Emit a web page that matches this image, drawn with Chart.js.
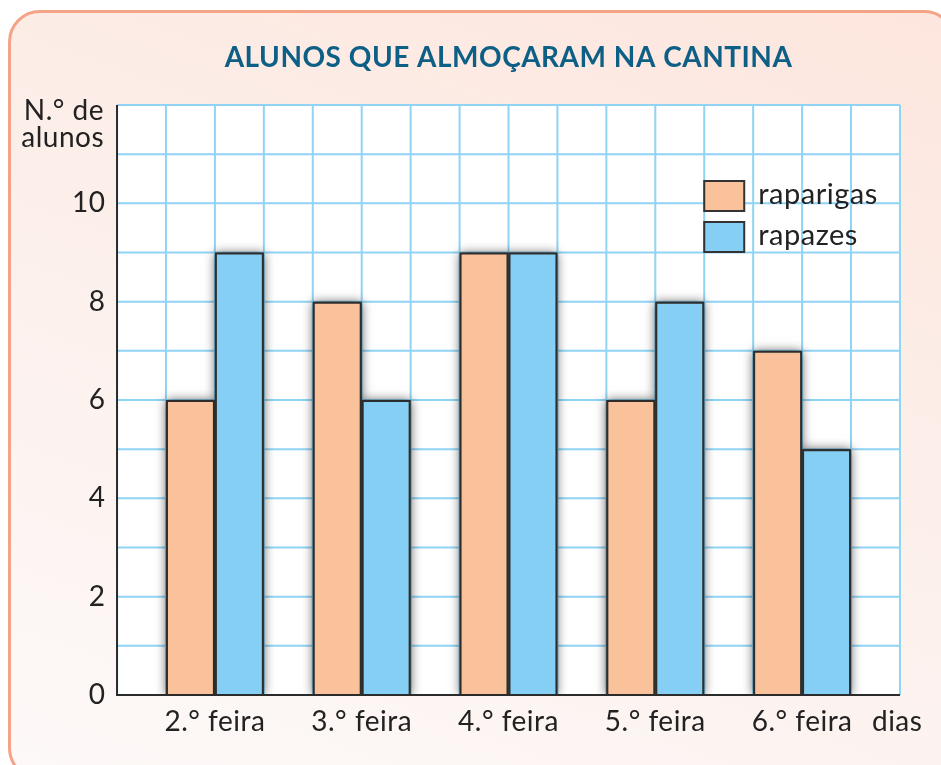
<!DOCTYPE html>
<html>
<head>
<meta charset="utf-8">
<script src="https://cdn.jsdelivr.net/npm/chart.js@4/dist/chart.umd.min.js"></script>
<style>
  html, body { margin: 0; padding: 0; background: #fff; overflow: hidden; }
  #wrap { position: relative; width: 941px; height: 765px; }
  #card {
    position: absolute; left: 8px; top: 10px; width: 948px; height: 770px;
    box-sizing: border-box; border: 3px solid #f4a386; border-radius: 32px;
    background: linear-gradient(20deg, #fdf9f8 0%, #fcefea 55%, #fde6de 100%);
  }
  #box { position: absolute; left: 0; top: 0; width: 941px; height: 765px; }
</style>
</head>
<body>
<div id="wrap">
  <div id="card"></div>
  <div id="box"><canvas id="chart"></canvas></div>
</div>
<script>
const dias = ['2.° feira', '3.° feira', '4.° feira', '5.° feira', '6.° feira'];
const raparigas = [6, 8, 9, 6, 7];
const rapazes = [9, 6, 9, 8, 5];
const yLabels = [0, 2, 4, 6, 8, 10];
const yMax = 12;

const FONT = 'Lato, "Noto Sans", sans-serif';
const TEXT = '#222222';

function gridBox(chart) {
    const x = chart.scales.x, y = chart.scales.y;
    const cols = dias.length * 3;
    const colW = (x.right - x.left) / cols;
    const left = x.left - colW / 2;
    return {
        cols, colW, left,
        right: left + colW * (cols + 1),
        top: y.getPixelForValue(yMax),
        bottom: y.getPixelForValue(0)
    };
}

// grid paper, bar shadows, axes, legend and the two axis captions
const paperPlugin = {
    id: 'paper',
    beforeDraw(chart) {
        chart.ctx.letterSpacing = '0.5px';
    },
    beforeDatasetsDraw(chart) {
        const { ctx } = chart;
        const y = chart.scales.y;
        const g = gridBox(chart);
        ctx.save();
        ctx.fillStyle = '#ffffff';
        ctx.fillRect(g.left, g.top, g.right - g.left, g.bottom - g.top);
        ctx.strokeStyle = '#8fd4f5';
        ctx.lineWidth = 2;
        ctx.beginPath();
        for (let v = 0; v <= yMax; v++) {
            const py = y.getPixelForValue(v);
            ctx.moveTo(g.left, py);
            ctx.lineTo(g.right, py);
        }
        for (let c = 0; c <= g.cols + 1; c++) {
            const px = g.left + c * g.colW;
            ctx.moveTo(px, g.top);
            ctx.lineTo(px, g.bottom);
        }
        ctx.stroke();

        // soft shadow under every bar
        ctx.beginPath();
        ctx.rect(0, 0, chart.width, g.bottom);
        ctx.clip();
        ctx.shadowColor = 'rgba(0,0,0,0.6)';
        ctx.shadowBlur = 10;
        ctx.fillStyle = '#333';
        chart.getSortedVisibleDatasetMetas().forEach(meta => {
            meta.data.forEach(bar => {
                const p = bar.getProps(['x', 'y', 'base', 'width'], true);
                ctx.fillRect(p.x - p.width / 2, p.y, p.width, p.base - p.y);
            });
        });
        ctx.restore();
    },
    afterDatasetsDraw(chart) {
        const { ctx } = chart;
        const g = gridBox(chart);

        ctx.save();
        ctx.strokeStyle = '#2b2b2b';
        ctx.lineWidth = 2;
        ctx.beginPath();
        ctx.moveTo(g.left, g.top);
        ctx.lineTo(g.left, g.bottom);
        ctx.lineTo(g.right, g.bottom);
        ctx.stroke();

        // legend
        const bx = g.left + 12 * g.colW;
        let by = g.top + 76;
        ctx.font = '29px ' + FONT;
        ctx.textBaseline = 'middle';
        ctx.textAlign = 'left';
        chart.data.datasets.forEach(ds => {
            ctx.fillStyle = ds.backgroundColor;
            ctx.fillRect(bx, by, 40, 30);
            ctx.strokeStyle = '#333';
            ctx.lineWidth = 2;
            ctx.strokeRect(bx, by, 40, 30);
            ctx.fillStyle = TEXT;
            ctx.fillText(ds.label, bx + 54, by + 14);
            by += 41;
        });

        // captions
        ctx.font = '28px ' + FONT;
        ctx.textAlign = 'right';
        ctx.fillText('N.° de', g.left - 13, g.top + 6);
        ctx.fillText('alunos', g.left - 13, g.top + 33);
        ctx.textAlign = 'left';
        ctx.fillText('dias', g.right - 28, g.bottom + 27);
        ctx.restore();
    }
};

new Chart(document.getElementById('chart'), {
    type: 'bar',
    data: {
        labels: dias,
        datasets: [
            {
                label: 'raparigas',
                data: raparigas,
                backgroundColor: '#f9c29b',
                borderColor: '#2d2d2d',
                borderWidth: 2
            },
            {
                label: 'rapazes',
                data: rapazes,
                backgroundColor: '#84cff3',
                borderColor: '#2d2d2d',
                borderWidth: 2
            }
        ]
    },
    options: {
        responsive: true,
        maintainAspectRatio: false,
        animation: false,
        categoryPercentage: 2 / 3,
        barPercentage: 1,
        layout: { padding: { left: 0, right: 65.5, top: 0, bottom: 0 } },
        plugins: {
            legend: { display: false },
            tooltip: { enabled: false },
            title: {
                display: true,
                fullSize: false,
                text: 'ALUNOS QUE ALMOÇARAM NA CANTINA',
                color: '#0e5f86',
                font: { family: FONT, size: 28, weight: 'bold' },
                padding: { top: 41, bottom: 30.4 }
            }
        },
        scales: {
            x: {
                offset: true,
                grid: { display: false, drawTicks: false },
                border: { display: false },
                ticks: { color: TEXT, font: { family: FONT, size: 28 }, padding: 10 },
                afterFit(scale) { scale.height = 70; }
            },
            y: {
                min: 0,
                max: yMax,
                grid: { display: false, drawTicks: false },
                border: { display: false },
                ticks: {
                    stepSize: 1,
                    color: TEXT,
                    font: { family: FONT, size: 28 },
                    padding: 36,
                    callback: v => yLabels.includes(v) ? String(v) : ''
                },
                afterFit(scale) { scale.width = 141.5; }
            }
        }
    },
    plugins: [paperPlugin]
});
</script>
</body>
</html>
